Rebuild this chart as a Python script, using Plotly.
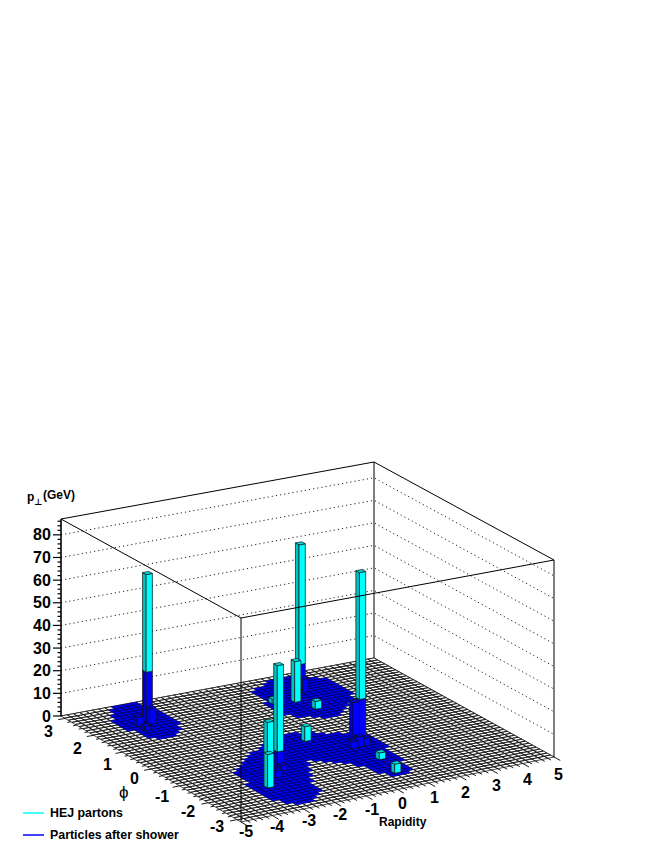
import plotly.graph_objects as go

# histogram binning
N_RAP = 50
N_PHI = 50
RAP_MIN, RAP_MAX = -5.0, 5.0
PHI_MIN, PHI_MAX = -3.14159, 3.14159
Z_MAX = 87.0

# cells with a non-zero entry, per phi bin: rows and rapidity bin ranges
blue_row = [49, 48, 47, 46, 45, 44, 43, 42, 41, 40, 39, 38, 37, 36, 35,
            48, 47, 46, 45, 44, 43, 42, 41, 40, 39, 38, 37, 36, 35, 34, 33, 32, 31,
            27, 26, 25, 24, 23, 22, 21, 20, 19, 18, 17,
            16, 15, 14, 13, 12, 11, 10, 9, 8, 7, 6, 5, 4, 3, 2,
            16, 15, 14, 13, 12, 11, 10, 9, 8, 7, 6, 5]
blue_from = [8, 7, 7, 6, 6, 5, 5, 5, 5, 5, 6, 6, 6, 6, 7,
             32, 31, 29, 28, 28, 28, 28, 28, 27, 27, 27, 27, 27, 27, 28, 28, 30, 31,
             21, 19, 18, 17, 15, 14, 13, 12, 11, 10, 9,
             9, 9, 9, 9, 8, 8, 8, 8, 8, 8, 8, 8, 9, 9, 10,
             21, 22, 23, 24, 25, 25, 26, 26, 26, 26, 27, 27]
blue_to = [11, 11, 11, 11, 12, 12, 12, 12, 12, 12, 12, 11, 11, 10, 9,
           36, 37, 38, 39, 39, 39, 39, 39, 39, 39, 39, 38, 38, 37, 36, 35, 34, 33,
           24, 26, 27, 29, 30, 31, 32, 32, 32, 32, 32,
           19, 19, 18, 18, 17, 17, 16, 16, 15, 15, 15, 15, 14, 13, 12,
           32, 31, 31, 31, 31, 31, 31, 30, 30, 30, 30, 29]

# showered particles (blue towers)
part_rap = [9, 7, 7, 9, 34, 34, 15, 13, 15, 31, 30, 28, 29, 30]
part_phi = [42, 41, 39, 41, 43, 42, 16, 13, 15, 21, 21, 18, 18, 18]
part_pt = [22.0, 4.0, 2.0, 7.0, 11.5, 6.0, 7.5, 3.0, 2.5, 17.3, 16.5, 3.0, 4.5, 3.5]

# HEJ partons (cyan towers, stacked on the blue ones)
hej_rap = [9, 34, 31, 15, 14, 10, 24, 32, 28, 31, 29, 28]
hej_phi = [42, 43, 39, 16, 17, 10, 24, 35, 40, 21, 12, 6]
hej_pt = [43.0, 53.0, 18.0, 37.5, 20.0, 14.5, 6.5, 3.5, 2.1, 55.7, 3.0, 4.0]

z_ticks = [0, 10, 20, 30, 40, 50, 60, 70, 80]
rap_ticks = [-5, -4, -3, -2, -1, 0, 1, 2, 3, 4, 5]
phi_ticks = [3, 2, 1, 0, -1, -2, -3]

# where each tick label sits on the page
rap_label_x = [246, 277, 309, 340, 372, 402, 434, 465, 496, 527, 558]
rap_label_y = [831, 826, 820, 814, 809, 803, 797, 792, 785, 779, 774]
phi_label_x = [48, 77, 107, 134, 162, 188, 217]
phi_label_y = [731, 748, 764, 778, 796, 811, 826]

CYAN = ("#00ffff", "#00c4c4", "#00e0e0")  # right, left, top faces
BLUE = ("#0000ff", "#0000c8", "#0000e0")
INK = "#000000"

# floor corners and box heights on the page: front, right, left, back
FRONT, RIGHT, LEFT, BACK = (241, 822), (554, 757), (61, 716), (374, 658)
H_FRONT, H_RIGHT, H_LEFT, H_BACK = 204, 197, 197, 196

# the page body has an 8px margin, so the plot area starts there
PAGE_MARGIN = 8


def project(u, v, z=0.0):
    # bilinear map of the unit floor, heights scaled the same way
    a, b, c, d = (1 - u) * (1 - v), u * (1 - v), (1 - u) * v, u * v
    x = a * FRONT[0] + b * RIGHT[0] + c * LEFT[0] + d * BACK[0]
    y = a * FRONT[1] + b * RIGHT[1] + c * LEFT[1] + d * BACK[1]
    h = a * H_FRONT + b * H_RIGHT + c * H_LEFT + d * H_BACK
    return x, y - h * z / Z_MAX


def path(points):
    xs, ys = [], []
    for u, v, z in points:
        px, py = project(u, v, z)
        xs.append(px)
        ys.append(py)
    return xs, ys


def u_of(rap):
    return (rap - RAP_MIN) / (RAP_MAX - RAP_MIN)


def v_of(phi):
    return (phi - PHI_MIN) / (PHI_MAX - PHI_MIN)


fig = go.Figure()


def add_line(points, color=INK, width=1.0, dash="solid", name=None):
    xs, ys = path(points)
    fig.add_trace(go.Scatter(x=xs, y=ys, mode="lines", hoverinfo="skip", name=name,
                             line=dict(color=color, width=width, dash=dash)))


def add_cells(cells, fill, line_color, width=0.7, name=None):
    xs, ys = [], []
    for i, j in cells:
        u0, u1 = i / N_RAP, (i + 1) / N_RAP
        v0, v1 = j / N_PHI, (j + 1) / N_PHI
        cx, cy = path([(u0, v0, 0), (u1, v0, 0), (u1, v1, 0), (u0, v1, 0), (u0, v0, 0)])
        xs += cx + [None]
        ys += cy + [None]
    fig.add_trace(go.Scatter(x=xs, y=ys, mode="lines", fill="toself", fillcolor=fill, name=name,
                             hoverinfo="skip", line=dict(color=line_color, width=width)))


def add_face(points, fill):
    xs, ys = path(points + points[:1])
    fig.add_trace(go.Scatter(x=xs, y=ys, mode="lines", fill="toself", fillcolor=fill,
                             hoverinfo="skip", line=dict(color="#111111", width=0.7)))


def add_tower(i, j, z0, z1, colors):
    u0, u1 = i / N_RAP, (i + 1) / N_RAP
    v0, v1 = j / N_PHI, (j + 1) / N_PHI
    add_face([(u0, v0, z0), (u0, v1, z0), (u0, v1, z1), (u0, v0, z1)], colors[1])
    add_face([(u0, v0, z0), (u1, v0, z0), (u1, v0, z1), (u0, v0, z1)], colors[0])
    add_face([(u0, v0, z1), (u1, v0, z1), (u1, v1, z1), (u0, v1, z1)], colors[2])


# back walls with dotted grid
for z in z_ticks[1:]:
    add_line([(0, 1, z), (1, 1, z), (1, 0, z)], color="#222222", width=1, dash="1.2px,3px")
add_line([(0, 1, 0), (1, 1, 0), (1, 0, 0)], color=INK, width=0.8)
add_line([(1, 1, 0), (1, 1, Z_MAX)], width=1)
add_line([(0, 1, Z_MAX), (1, 1, Z_MAX), (1, 0, Z_MAX)], width=1)

# floor
blue_cells = set()
for row, start, end in zip(blue_row, blue_from, blue_to):
    for i in range(start, end + 1):
        blue_cells.add((i, row))
white_cells = [(i, j) for j in range(N_PHI) for i in range(N_RAP) if (i, j) not in blue_cells]
add_cells(white_cells, "#ffffff", "#111111", width=0.75, name="empty bins")
add_cells(sorted(blue_cells), "#0000ff", "#000060", width=0.6, name="Particles after shower")

# towers painted back to front: largest phi and rapidity first
part = {(i, j): pt for i, j, pt in zip(part_rap, part_phi, part_pt)}
hej = {(i, j): pt for i, j, pt in zip(hej_rap, hej_phi, hej_pt)}
for i, j in sorted(set(part) | set(hej), key=lambda c: (c[0] + c[1] * 1.0), reverse=True):
    low = part.get((i, j), 0.0)
    high = low + hej.get((i, j), 0.0)
    if low > 0:
        add_tower(i, j, 0.0, low, BLUE)
    if high > low:
        add_tower(i, j, low, high, CYAN)

# front edges of the box, over the towers
add_line([(0, 0, 0), (0, 0, Z_MAX)], width=1)
add_line([(0, 1, Z_MAX), (0, 0, Z_MAX), (1, 0, Z_MAX)], width=1)
add_line([(1, 0, 0), (1, 0, Z_MAX)], width=1)

# z axis
add_line([(0, 1, 0), (0, 1, Z_MAX)], width=1.6)
annotations = []


def label(x, y, text, size=16, anchor="center", family="Liberation Sans", bold=True):
    annotations.append(dict(x=x, y=y, xref="x", yref="y", text=text, showarrow=False,
                            xanchor=anchor, yanchor="middle", borderpad=0,
                            font=dict(family=family, size=size, color="#000000",
                                      weight="bold" if bold else "normal")))


tick_x, tick_y = [], []
for k in range(0, 44):
    z = k * 2.0
    px, py = project(0, 1, z)
    tick_x += [px, px - (8 if k % 5 == 0 else 3.5), None]
    tick_y += [py, py, None]
    if k % 5 == 0:
        label(52, py, str(int(z)), anchor="right")
fig.add_trace(go.Scatter(x=tick_x, y=tick_y, mode="lines", hoverinfo="skip",
                         line=dict(color=INK, width=1.2)))

# rapidity and phi axis ticks, both follow the floor grid
tick_x, tick_y = [], []
for k in range(0, 51):
    rap = RAP_MIN + k * 0.2
    size = 0.035 if k % 5 == 0 else 0.018
    x0, y0 = project(u_of(rap), 0)
    x1, y1 = project(u_of(rap), -size)
    tick_x += [x0, x1, None]
    tick_y += [y0, y1, None]
for k in range(-15, 16):
    phi = k * 0.2
    size = 0.022 if k % 5 == 0 else 0.011
    x0, y0 = project(0, v_of(phi))
    x1, y1 = project(-size, v_of(phi))
    tick_x += [x0, x1, None]
    tick_y += [y0, y1, None]
fig.add_trace(go.Scatter(x=tick_x, y=tick_y, mode="lines", hoverinfo="skip",
                         line=dict(color=INK, width=0.9)))

for text, x, y in zip(rap_ticks, rap_label_x, rap_label_y):
    label(x, y, str(text))
for text, x, y in zip(phi_ticks, phi_label_x, phi_label_y):
    label(x, y, str(text))

label(403, 822, "Rapidity", size=12)
label(124, 792, "ϕ", size=17, bold=False)
label(30.6, 497, "p", size=12)
label(38, 502, "⊥", size=9, family="DejaVu Sans")
label(42, 495, "(GeV)", size=12, anchor="left")

# legend
for y, color, text in [(813, "#00ffff", "HEJ partons"), (835, "#0000ff", "Particles after shower")]:
    fig.add_shape(type="line", xref="x", yref="y", x0=23, x1=44, y0=y, y1=y,
                  line=dict(color=color, width=1.5))
    label(49, y, text, size=12.4, anchor="left")

fig.update_layout(
    width=664 - 2 * PAGE_MARGIN, height=860 - 2 * PAGE_MARGIN,
    margin=dict(l=0, r=0, t=0, b=0),
    paper_bgcolor="white", plot_bgcolor="white",
    showlegend=False,
    annotations=annotations,
    xaxis=dict(range=[PAGE_MARGIN, 664 - PAGE_MARGIN], visible=False, fixedrange=True),
    yaxis=dict(range=[860 - PAGE_MARGIN, PAGE_MARGIN], visible=False, fixedrange=True),
)

fig.write_html("out.html")
